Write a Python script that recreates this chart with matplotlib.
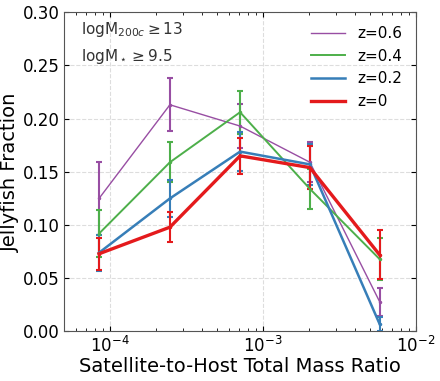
import numpy as np
import matplotlib.pyplot as plt

ratio = [8.5e-5, 2.47e-4, 7.1e-4, 2.03e-3, 5.8e-3]

labels = ['z=0.6', 'z=0.4', 'z=0.2', 'z=0']
colors = ['#984ea3', '#4daf4a', '#377eb8', '#e41a1c']
widths = [1.0, 1.4, 1.8, 2.4]

frac_z06 = [0.125, 0.213, 0.193, 0.159, 0.028]
err_z06 = [0.034, 0.025, 0.021, 0.019, 0.013]
frac_z04 = [0.092, 0.159, 0.206, 0.134, 0.068]
err_z04 = [0.022, 0.019, 0.020, 0.019, 0.020]
frac_z02 = [0.074, 0.125, 0.169, 0.157, 0.007]
err_z02 = [0.017, 0.017, 0.018, 0.019, 0.007]
frac_z0 = [0.073, 0.098, 0.165, 0.154, 0.072]
err_z0 = [0.015, 0.014, 0.017, 0.020, 0.023]

fracs = [frac_z06, frac_z04, frac_z02, frac_z0]
errs = [err_z06, err_z04, err_z02, err_z0]

fig, ax = plt.subplots(figsize=(4.4, 3.81), dpi=100)
for f, e, c, lw, lab in zip(fracs, errs, colors, widths, labels):
    ax.errorbar(ratio, f, yerr=e, color=c, lw=lw, elinewidth=1.5, capsize=2,
                capthick=1.5, marker='.', ms=3)
    ax.plot([], [], color=c, lw=lw, label=lab)

ax.set_xscale('log')
ax.set_xlim(5e-5, 1e-2)
ax.set_ylim(0, 0.30)
ax.set_yticks(np.arange(0, 0.31, 0.05))
ax.grid(True, ls='--', color='#dddddd', lw=0.8)
ax.tick_params(which='both', direction='in', top=True, right=True, labelsize=12, pad=3)
ax.set_xlabel('Satellite-to-Host Total Mass Ratio', fontsize=14, labelpad=1)
ax.set_ylabel('Jellyfish Fraction', fontsize=14, labelpad=2)
ax.text(0.05, 0.975, r'logM$_{200c}\geq$13', transform=ax.transAxes, fontsize=11, va='top', color='#333333')
ax.text(0.05, 0.89, r'logM$_\star\geq$9.5', transform=ax.transAxes, fontsize=11, va='top', color='#333333')
ax.legend(frameon=False, fontsize=11, loc='upper right', handlelength=2.2)
for s in ax.spines.values():
    s.set_color('#555555')
fig.subplots_adjust(left=0.145, right=0.945, top=0.968, bottom=0.13)
plt.savefig('out.png')
